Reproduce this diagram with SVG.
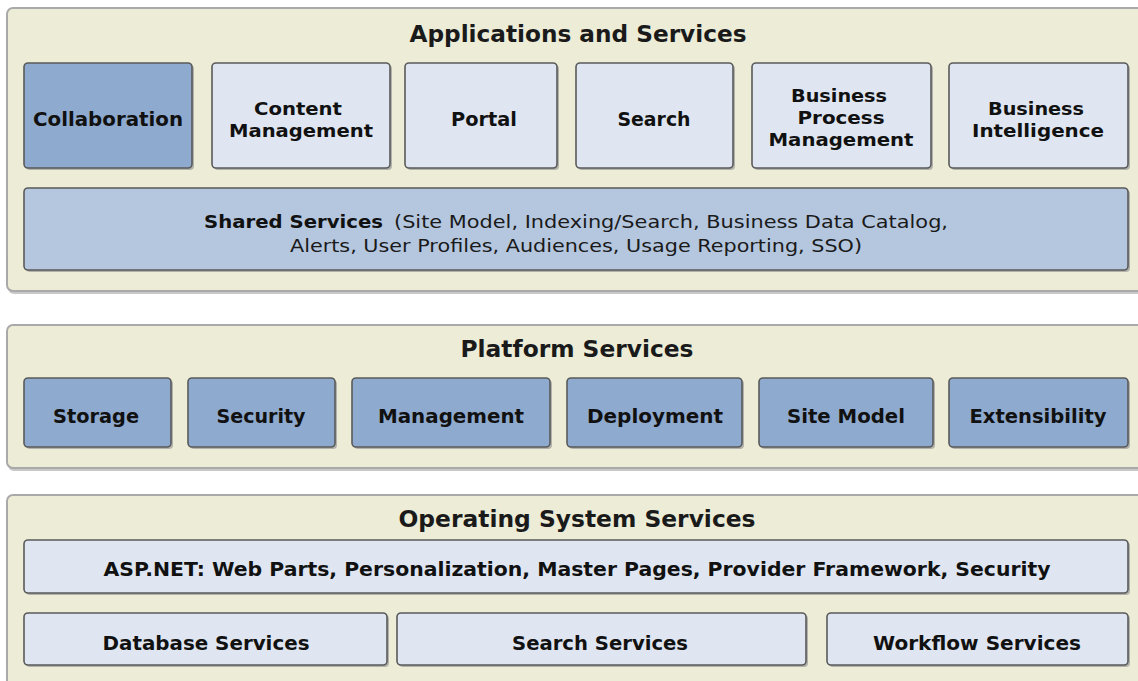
<svg xmlns="http://www.w3.org/2000/svg" width="1138" height="681" viewBox="0 0 1138 681">
<style>
.panel{fill:#ECECD7;stroke:#A9A9A9;stroke-width:2}
.pshadow{fill:#C8C8C8}
.box{stroke:#5A5A5A;stroke-width:1.6}
.shadow{fill:#9A9A9A;opacity:0.7}
.dark{fill:#8EAACF}
.light{fill:#DFE6F1}
.mid{fill:#B4C7DF}
.t{font-family:"DejaVu Sans","Verdana",sans-serif;font-weight:bold;font-size:20px;fill:#111;text-anchor:middle}
.tm{font-family:"DejaVu Sans","Verdana",sans-serif;font-weight:bold;font-size:18px;fill:#111;text-anchor:middle}
.title{font-family:"DejaVu Sans","Verdana",sans-serif;font-weight:bold;font-size:23px;fill:#1a1a1a;text-anchor:middle}
.r{font-family:"DejaVu Sans","Verdana",sans-serif;font-size:17px;fill:#1a1a1a}
.rb{font-family:"DejaVu Sans","Verdana",sans-serif;font-size:17px;font-weight:bold;fill:#111}
</style>
<rect width="1138" height="681" fill="#FFFFFF"/>

<g id="panel-apps">
<rect class="pshadow" x="8" y="10" width="1145" height="284" rx="6"/>
<rect class="panel" x="7" y="8" width="1145" height="283" rx="6"/>
<text class="title" x="578" y="42" textLength="337" lengthAdjust="spacingAndGlyphs">Applications and Services</text>
</g>
<g id="panel-platform">
<rect class="pshadow" x="8" y="327" width="1145" height="144" rx="6"/>
<rect class="panel" x="7" y="325" width="1145" height="143" rx="6"/>
<text class="title" x="577" y="357" textLength="233" lengthAdjust="spacingAndGlyphs">Platform Services</text>
</g>
<g id="panel-os">
<rect class="pshadow" x="8" y="497" width="1145" height="200" rx="6"/>
<rect class="panel" x="7" y="495" width="1145" height="200" rx="6"/>
<text class="title" x="577" y="527" textLength="357" lengthAdjust="spacingAndGlyphs">Operating System Services</text>
</g>

<g id="collaboration">
<rect class="shadow" x="26" y="65" width="168" height="105" rx="4"/>
<rect class="box dark" x="24" y="63" width="168" height="105" rx="4"/>
<text class="t" x="108" y="126" textLength="150" lengthAdjust="spacingAndGlyphs">Collaboration</text>
</g>
<g id="content-management">
<rect class="shadow" x="214" y="65" width="178" height="105" rx="4"/>
<rect class="box light" x="212" y="63" width="178" height="105" rx="4"/>
<text class="tm"><tspan x="298" y="115" textLength="88" lengthAdjust="spacingAndGlyphs">Content</tspan><tspan x="301" y="137" textLength="144" lengthAdjust="spacingAndGlyphs">Management</tspan></text>
</g>
<g id="portal">
<rect class="shadow" x="407" y="65" width="152" height="105" rx="4"/>
<rect class="box light" x="405" y="63" width="152" height="105" rx="4"/>
<text class="t" x="484" y="126" textLength="66" lengthAdjust="spacingAndGlyphs">Portal</text>
</g>
<g id="search">
<rect class="shadow" x="578" y="65" width="157" height="105" rx="4"/>
<rect class="box light" x="576" y="63" width="157" height="105" rx="4"/>
<text class="t" x="654" y="126" textLength="73" lengthAdjust="spacingAndGlyphs">Search</text>
</g>
<g id="bpm">
<rect class="shadow" x="754" y="65" width="179" height="105" rx="4"/>
<rect class="box light" x="752" y="63" width="179" height="105" rx="4"/>
<text class="tm"><tspan x="839" y="102" textLength="96" lengthAdjust="spacingAndGlyphs">Business</tspan><tspan x="841" y="124" textLength="87" lengthAdjust="spacingAndGlyphs">Process</tspan><tspan x="841" y="146" textLength="145" lengthAdjust="spacingAndGlyphs">Management</tspan></text>
</g>
<g id="bi">
<rect class="shadow" x="951" y="65" width="179" height="105" rx="4"/>
<rect class="box light" x="949" y="63" width="179" height="105" rx="4"/>
<text class="tm"><tspan x="1036" y="115" textLength="96" lengthAdjust="spacingAndGlyphs">Business</tspan><tspan x="1038" y="137" textLength="132" lengthAdjust="spacingAndGlyphs">Intelligence</tspan></text>
</g>
<g id="shared-services">
<rect class="shadow" x="26" y="190" width="1104" height="82" rx="4"/>
<rect class="box mid" x="24" y="188" width="1104" height="82" rx="4"/>
<text><tspan class="rb" x="204" y="228" textLength="179" lengthAdjust="spacingAndGlyphs">Shared Services</tspan><tspan class="r" x="394" y="228" textLength="554" lengthAdjust="spacingAndGlyphs">(Site Model, Indexing/Search, Business Data Catalog,</tspan><tspan class="r" x="290" y="252" textLength="572" lengthAdjust="spacingAndGlyphs">Alerts, User Profiles, Audiences, Usage Reporting, SSO)</tspan></text>
</g>

<g id="storage">
<rect class="shadow" x="26" y="380" width="147" height="69" rx="4"/>
<rect class="box dark" x="24" y="378" width="147" height="69" rx="4"/>
<text class="t" x="96" y="423" textLength="86" lengthAdjust="spacingAndGlyphs">Storage</text>
</g>
<g id="security">
<rect class="shadow" x="190" y="380" width="147" height="69" rx="4"/>
<rect class="box dark" x="188" y="378" width="147" height="69" rx="4"/>
<text class="t" x="261" y="423" textLength="89" lengthAdjust="spacingAndGlyphs">Security</text>
</g>
<g id="management">
<rect class="shadow" x="354" y="380" width="198" height="69" rx="4"/>
<rect class="box dark" x="352" y="378" width="198" height="69" rx="4"/>
<text class="t" x="451" y="423" textLength="146" lengthAdjust="spacingAndGlyphs">Management</text>
</g>
<g id="deployment">
<rect class="shadow" x="569" y="380" width="175" height="69" rx="4"/>
<rect class="box dark" x="567" y="378" width="175" height="69" rx="4"/>
<text class="t" x="655" y="423" textLength="136" lengthAdjust="spacingAndGlyphs">Deployment</text>
</g>
<g id="site-model">
<rect class="shadow" x="761" y="380" width="174" height="69" rx="4"/>
<rect class="box dark" x="759" y="378" width="174" height="69" rx="4"/>
<text class="t" x="846" y="423" textLength="118" lengthAdjust="spacingAndGlyphs">Site Model</text>
</g>
<g id="extensibility">
<rect class="shadow" x="951" y="380" width="179" height="69" rx="4"/>
<rect class="box dark" x="949" y="378" width="179" height="69" rx="4"/>
<text class="t" x="1038" y="423" textLength="137" lengthAdjust="spacingAndGlyphs">Extensibility</text>
</g>

<g id="aspnet">
<rect class="shadow" x="26" y="542" width="1104" height="53" rx="4"/>
<rect class="box light" x="24" y="540" width="1104" height="53" rx="4"/>
<text class="t" x="577" y="576" textLength="947" lengthAdjust="spacingAndGlyphs">ASP.NET: Web Parts, Personalization, Master Pages, Provider Framework, Security</text>
</g>
<g id="database-services">
<rect class="shadow" x="26" y="615" width="363" height="52" rx="4"/>
<rect class="box light" x="24" y="613" width="363" height="52" rx="4"/>
<text class="t" x="206" y="650" textLength="207" lengthAdjust="spacingAndGlyphs">Database Services</text>
</g>
<g id="search-services">
<rect class="shadow" x="399" y="615" width="409" height="52" rx="4"/>
<rect class="box light" x="397" y="613" width="409" height="52" rx="4"/>
<text class="t" x="600" y="650" textLength="176" lengthAdjust="spacingAndGlyphs">Search Services</text>
</g>
<g id="workflow-services">
<rect class="shadow" x="829" y="615" width="301" height="52" rx="4"/>
<rect class="box light" x="827" y="613" width="301" height="52" rx="4"/>
<text class="t" x="977" y="650" textLength="208" lengthAdjust="spacingAndGlyphs">Workflow Services</text>
</g>
<g id="connectors"/>
</svg>
